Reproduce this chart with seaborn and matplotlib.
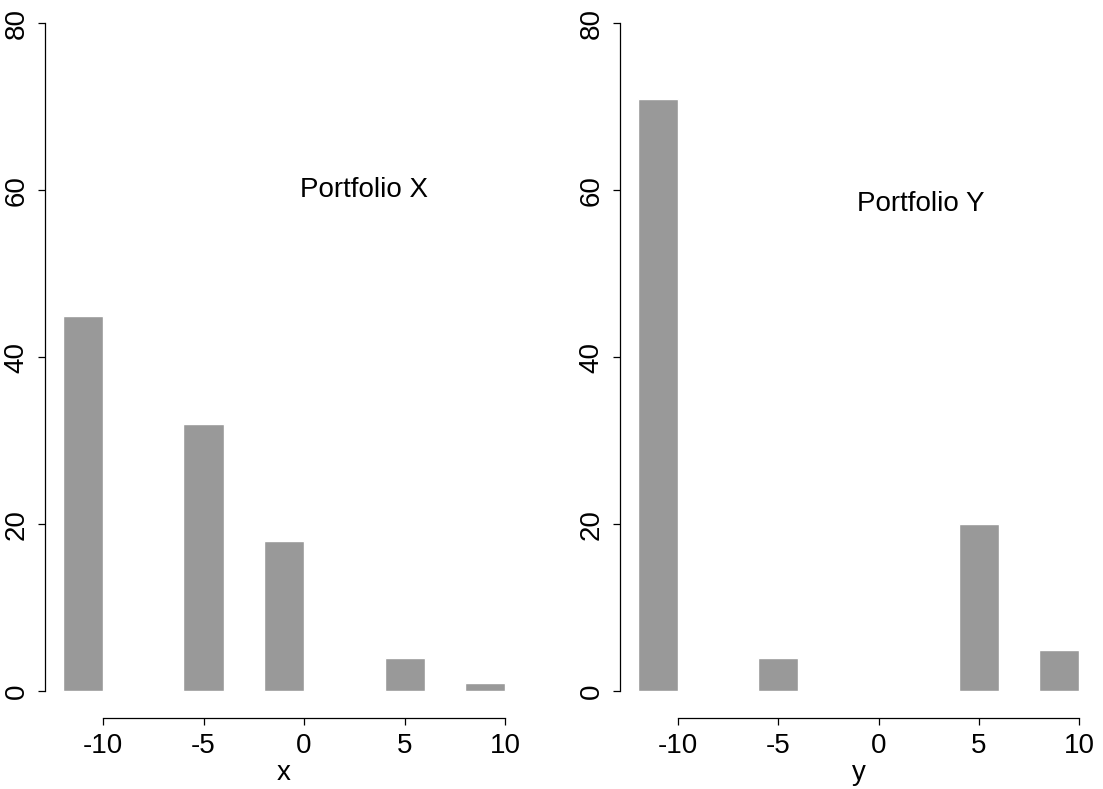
import numpy as np
import pandas as pd
import matplotlib
matplotlib.use("Agg")
import matplotlib.pyplot as plt
import seaborn as sns

# Return bins (centres of 2-unit bins) and the share of outcomes in each (%)
x_centres = [-11, -5, -1, 5, 9]
x_percent = [45, 32, 18, 4, 1]
y_centres = [-11, -5, 5, 9]
y_percent = [71, 4, 20, 5]

x_ticks = [-10, -5, 0, 5, 10]
y_ticks = [0, 20, 40, 60, 80]
bin_edges = [-12, -10, -8, -6, -4, -2, 0, 2, 4, 6, 8, 10]

sns.set_style("white")
plt.rcParams["font.family"] = ["Liberation Sans", "DejaVu Sans"]
plt.rcParams["text.color"] = "black"
plt.rcParams["axes.labelcolor"] = "black"
plt.rcParams["xtick.color"] = "black"
plt.rcParams["ytick.color"] = "black"

FS = 20

fig = plt.figure(figsize=(11.03, 7.89), dpi=100)
ax_x = fig.add_axes([45 / 1103, 71 / 789, 478 / 1103, 718 / 789])
ax_y = fig.add_axes([620 / 1103, 71 / 789, 477 / 1103, 718 / 789])

panels = [
    (ax_x, x_centres, x_percent, "x", "Portfolio X", (3, 60)),
    (ax_y, y_centres, y_percent, "y", "Portfolio Y", (2.1, 58.4)),
]

for ax, centres, pct, xlabel, title, pos in panels:
    df = pd.DataFrame({"ret": centres, "pct": pct})
    sns.histplot(data=df, x="ret", weights="pct", bins=bin_edges, ax=ax,
                 color="#999999", alpha=1, edgecolor="white", linewidth=1)
    ax.set_xlim(-12.88, 10.88)
    ax.set_ylim(-3.2, 82.8)
    for s in ["top", "right"]:
        ax.spines[s].set_visible(False)
    for s in ["left", "bottom"]:
        ax.spines[s].set_color("black")
        ax.spines[s].set_linewidth(0.9)
    ax.spines["left"].set_bounds(0, 80)
    ax.spines["bottom"].set_bounds(-10, 10)
    ax.set_xticks(x_ticks)
    ax.set_xticklabels([str(t) for t in x_ticks])
    ax.set_yticks(y_ticks)
    ax.set_yticklabels([str(t) for t in y_ticks], rotation=90, va="center")
    ax.tick_params(axis="both", direction="out", length=5, width=0.9,
                   color="black", labelcolor="black", labelsize=FS, pad=6,
                   bottom=True, left=True)
    ax.set_xlabel(xlabel, fontsize=FS, labelpad=0.5, color="black")
    ax.set_ylabel("")
    ax.text(pos[0], pos[1], title, fontsize=FS, ha="center", va="center",
            color="black")

fig.savefig("out.png", dpi=100)
